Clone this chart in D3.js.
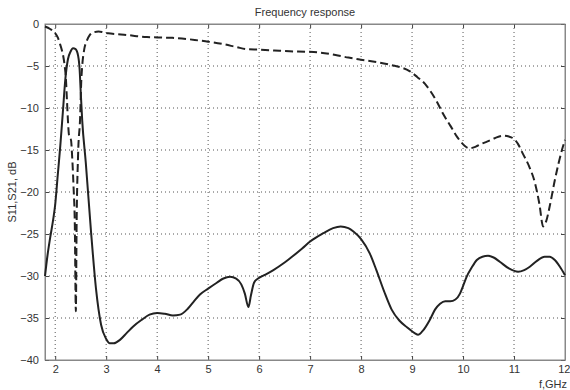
<!DOCTYPE html>
<html>
<head>
<meta charset="utf-8">
<script src="https://cdn.jsdelivr.net/npm/d3@7"></script>
<style>
  body { margin: 0; background: #fff; }
  text { font-family: "Liberation Sans", Arial, sans-serif; }
</style>
</head>
<body>
<div id="chart"></div>
<script>
// frequency grid (GHz) and dB readings for each trace
var freqS21 = [1.8, 1.85, 1.9, 1.96, 2.0, 2.05, 2.1, 2.15, 2.2, 2.25, 2.3, 2.35, 2.4, 2.45, 2.48, 2.5, 2.53, 2.6, 2.7, 2.8, 2.9, 3.0, 3.07, 3.15, 3.27, 3.4, 3.53, 3.7, 3.85, 4.0, 4.15, 4.31, 4.45, 4.6, 4.71, 4.84, 5.0, 5.17, 5.3, 5.43, 5.55, 5.65, 5.72, 5.79, 5.84, 5.9, 5.98, 6.1, 6.28, 6.5, 6.67, 6.85, 7.0, 7.26, 7.45, 7.6, 7.75, 7.85, 8.0, 8.17, 8.3, 8.45, 8.6, 8.75, 8.9, 9.05, 9.12, 9.2, 9.35, 9.45, 9.55, 9.65, 9.75, 9.85, 9.94, 10.0, 10.07, 10.17, 10.27, 10.38, 10.49, 10.6, 10.72, 10.9, 11.08, 11.2, 11.31, 11.45, 11.6, 11.7, 11.8, 11.9, 12.0];
var s21 = [-30.0, -27.5, -25.5, -23.3, -21.5, -18, -14.5, -10.5, -6.5, -4.2, -3.3, -2.9, -3.0, -3.8, -5.5, -8, -11.5, -16.5, -24.5, -31.5, -35.8, -37.5, -38.0, -38.0, -37.6, -36.8, -36.0, -35.2, -34.6, -34.4, -34.5, -34.7, -34.6, -33.9, -33.1, -32.2, -31.5, -30.8, -30.3, -30.1, -30.3, -31.0, -32.1, -33.7, -32.3, -30.8, -30.3, -29.9, -29.3, -28.4, -27.6, -26.7, -25.9, -24.9, -24.3, -24.1, -24.3, -24.7, -25.6, -27.3, -29.3, -31.8, -34.0, -35.3, -36.1, -36.8, -37.0, -36.6, -35.2, -34.0, -33.3, -33.0, -33.0, -32.8, -32.1, -31.2, -30.1, -29.0, -28.1, -27.7, -27.6, -27.8, -28.3, -29.1, -29.5, -29.3, -28.9, -28.2, -27.7, -27.7, -28.1, -28.9, -29.9];

var freqS11 = [1.8, 1.9, 2.0, 2.05, 2.09, 2.13, 2.16, 2.19, 2.21, 2.23, 2.25, 2.27, 2.29, 2.31, 2.33, 2.36, 2.385, 2.405, 2.42, 2.45, 2.49, 2.51, 2.53, 2.57, 2.62, 2.68, 2.75, 2.85, 2.95, 3.04, 3.2, 3.4, 3.6, 3.8, 4.0, 4.3, 4.6, 4.8, 5.0, 5.3, 5.56, 5.76, 6.0, 6.3, 6.6, 6.94, 7.2, 7.5, 7.75, 8.0, 8.37, 8.6, 8.8, 8.95, 9.1, 9.25, 9.35, 9.5, 9.6, 9.75, 9.88, 9.94, 10.03, 10.13, 10.25, 10.35, 10.47, 10.62, 10.78, 10.9, 10.98, 11.08, 11.17, 11.3, 11.41, 11.5, 11.57, 11.63, 11.7, 11.8, 11.94, 12.0];
var s11 = [-0.3, -0.6, -1.1, -1.6, -2.3, -3.1, -3.9, -5.2, -6.5, -9.0, -11.5, -13.2, -13.6, -13.8, -15.5, -19.4, -24, -34.2, -24, -15.4, -11, -7, -5, -3, -2, -1.3, -1.0, -0.9, -1.0, -1.1, -1.2, -1.3, -1.45, -1.55, -1.6, -1.65, -1.8, -1.95, -2.1, -2.4, -2.75, -3.0, -3.05, -3.15, -3.25, -3.3, -3.4, -3.7, -4.0, -4.25, -4.6, -4.9, -5.2, -5.6, -6.3, -7.1, -7.9, -9.4, -10.6, -12.1, -13.4, -13.9, -14.5, -14.8, -14.6, -14.3, -14.0, -13.6, -13.3, -13.4, -13.6, -14.3, -15.4, -17.0, -18.9, -21.5, -24.1, -23.5, -21.7, -18.6, -15.0, -13.8];

var xTicks = [2, 3, 4, 5, 6, 7, 8, 9, 10, 11, 12];
var yTicks = [0, -5, -10, -15, -20, -25, -30, -35, -40];

var W = 570, H = 390;
var margin = { top: 24, right: 5, bottom: 30, left: 45 };
var width = W - margin.left - margin.right,
	height = H - margin.top - margin.bottom;

var svg = d3.select("#chart").append("svg")
	.attr("width", W)
	.attr("height", H);

var g = svg.append("g")
	.attr("transform", "translate(" + margin.left + "," + margin.top + ")");

var x = d3.scaleLinear().domain([1.8, 12]).range([0, width]);
var y = d3.scaleLinear().domain([-40, 0]).range([height, 0]);

// grid
g.selectAll(".vgrid")
	.data(xTicks.filter(function(d) { return d < 12; }))
	.enter().append("line")
	.attr("x1", function(d) { return x(d); })
	.attr("x2", function(d) { return x(d); })
	.attr("y1", 0).attr("y2", height)
	.attr("stroke", "#555").attr("stroke-width", 1)
	.attr("stroke-dasharray", "1,3");

g.selectAll(".hgrid")
	.data(yTicks.filter(function(d) { return d > -40 && d < 0; }))
	.enter().append("line")
	.attr("x1", 0).attr("x2", width)
	.attr("y1", function(d) { return y(d); })
	.attr("y2", function(d) { return y(d); })
	.attr("stroke", "#555").attr("stroke-width", 1)
	.attr("stroke-dasharray", "1,3");

// axes with inward ticks
var xAxis = g.append("g")
	.attr("transform", "translate(0," + height + ")")
	.call(d3.axisBottom(x).tickValues(xTicks).tickSizeInner(-4).tickSizeOuter(0).tickPadding(5));
var yAxis = g.append("g")
	.call(d3.axisLeft(y).tickValues(yTicks).tickSizeInner(-4).tickSizeOuter(0).tickPadding(6));
var xTop = g.append("g")
	.call(d3.axisTop(x).tickValues(xTicks).tickSizeInner(-4).tickSizeOuter(0).tickFormat(""));
var yRight = g.append("g")
	.attr("transform", "translate(" + width + ",0)")
	.call(d3.axisRight(y).tickValues(yTicks).tickSizeInner(-4).tickSizeOuter(0).tickFormat(""));

[xAxis, yAxis, xTop, yRight].forEach(function(a) {
	a.select(".domain").attr("stroke", "#888");
	a.selectAll(".tick line").attr("stroke", "#444");
	a.selectAll("text").attr("font-size", 11).attr("fill", "#333")
		.style("font-family", "'Liberation Sans', Arial, sans-serif");
});

// keep the last x label inside the window
xAxis.selectAll(".tick text")
	.filter(function(d) { return d === 12; })
	.attr("text-anchor", "end")
	.attr("dx", 5);

// frame
g.append("rect")
	.attr("width", width).attr("height", height)
	.attr("fill", "none").attr("stroke", "#888");

var line = d3.line()
	.x(function(d) { return x(d[0]); })
	.y(function(d) { return y(d[1]); })
	.curve(d3.curveMonotoneX);

g.append("path")
	.datum(d3.zip(freqS11, s11))
	.attr("d", line)
	.attr("fill", "none")
	.attr("stroke", "#222")
	.attr("stroke-width", 2)
	.attr("stroke-dasharray", "8,4");

g.append("path")
	.datum(d3.zip(freqS21, s21))
	.attr("d", line)
	.attr("fill", "none")
	.attr("stroke", "#222")
	.attr("stroke-width", 2);

// labels
svg.append("text")
	.attr("x", margin.left + width / 2).attr("y", 16)
	.attr("text-anchor", "middle")
	.attr("font-size", 11).attr("fill", "#333")
	.text("Frequency response");

svg.append("text")
	.attr("transform", "translate(16," + (margin.top + height / 2) + ") rotate(-90)")
	.attr("text-anchor", "middle")
	.attr("font-size", 11).attr("fill", "#333")
	.text("S11,S21, dB");

svg.append("text")
	.attr("x", 567).attr("y", 388)
	.attr("text-anchor", "end")
	.attr("font-size", 11).attr("fill", "#333")
	.text("f,GHz");
</script>
</body>
</html>
